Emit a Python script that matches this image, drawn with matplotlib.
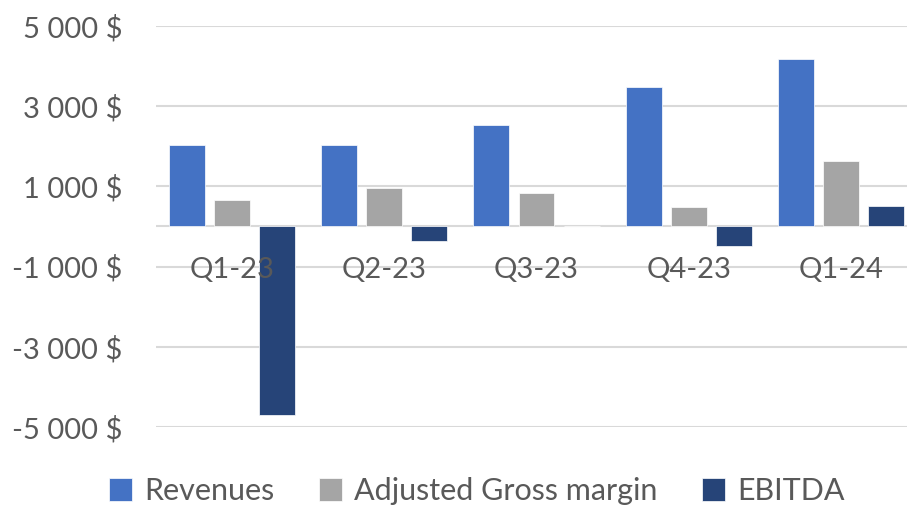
import matplotlib
matplotlib.use("Agg")
import matplotlib.pyplot as plt
import numpy as np

plt.rcParams["font.family"] = ["Lato", "DejaVu Sans"]

quarters = ["Q1-23", "Q2-23", "Q3-23", "Q4-23", "Q1-24"]
revenues = [2025, 2040, 2520, 3470, 4180]
gross_margin = [670, 950, 825, 475, 1625]
ebitda = [-4710, -350, 0, -480, 520]
series_names = ["Revenues", "Adjusted Gross margin", "EBITDA"]
yticks = [-5000, -3000, -1000, 1000, 3000, 5000]

COLORS = ["#4472C4", "#A5A5A5", "#264478"]
TXT = "#595959"
GRID = "#D9D9D9"

W, H = 907, 509
fig = plt.figure(figsize=(W / 100, H / 100), dpi=100)
# plot area runs a little past the right edge, as in the original crop
ax = fig.add_axes([156 / W, 1 - 427 / H, 761 / W, (427 - 26) / H])

x = np.arange(len(quarters))
bw = 0.236
step = 0.296
for k, (vals, name) in enumerate(zip([revenues, gross_margin, ebitda], series_names)):
    ax.bar(x + (k - 1) * step, vals, width=bw, color=COLORS[k], label=name,
           edgecolor="white", linewidth=0.5, zorder=1)

# gridlines behind bars, zero axis line
for t in yticks + [0]:
    ax.axhline(t, color=GRID, lw=1.5, zorder=0)

ax.set_xlim(-0.5, len(quarters) - 0.5)
ax.set_ylim(-5000, 5000)
ax.set_yticks(yticks)
ax.set_yticklabels([f"{t:,} $".replace(",", " ") for t in yticks])
ax.set_xticks(x)
ax.set_xticklabels(quarters)
ax.spines["bottom"].set_position(("data", 0))
for s in ax.spines.values():
    s.set_visible(False)
ax.tick_params(axis="y", length=0, pad=24, labelsize=21, labelcolor=TXT)
ax.tick_params(axis="x", length=0, pad=22, labelsize=21, labelcolor=TXT)

fig.legend(loc="center", bbox_to_anchor=(477 / W, 1 - 491 / H), ncol=3,
           frameon=False, fontsize=22, labelcolor=TXT, handlelength=0.75,
           handleheight=0.75, handletextpad=0.4, columnspacing=1.45)

fig.savefig("out.png", dpi=100)
